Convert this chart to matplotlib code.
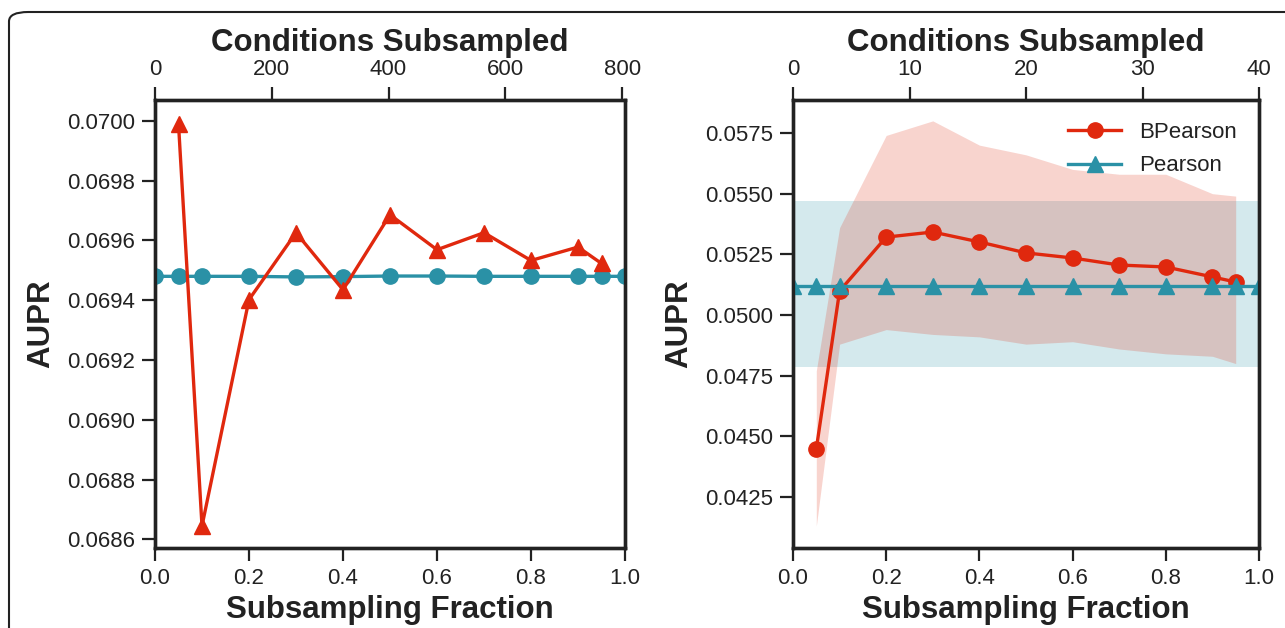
import matplotlib
matplotlib.use("Agg")
import matplotlib.pyplot as plt
from matplotlib.patches import FancyBboxPatch
import numpy as np

plt.rcParams['font.family'] = ['Liberation Sans', 'DejaVu Sans']

# ---------------- data ----------------
# Left panel (large dataset, ~805 conditions)
left_frac_b = [0.05, 0.1, 0.2, 0.3, 0.4, 0.5, 0.6, 0.7, 0.8, 0.9, 0.95]
left_bpearson = [0.06999, 0.068645, 0.069402, 0.069626, 0.069435, 0.069686,
                 0.069569, 0.069626, 0.069533, 0.069578, 0.069523]
left_frac_p = [0.0, 0.05, 0.1, 0.2, 0.3, 0.4, 0.5, 0.6, 0.7, 0.8, 0.9, 0.95, 1.0]
left_pearson = [0.069480, 0.069480, 0.069480, 0.069480, 0.069478, 0.069479, 0.069481,
                0.069481, 0.069480, 0.069480, 0.069480, 0.069480, 0.069480]
left_total_conditions = 805
left_top_ticks = [0, 200, 400, 600, 800]
left_yticks = [0.0686, 0.0688, 0.0690, 0.0692, 0.0694, 0.0696, 0.0698, 0.0700]

# Right panel (small dataset, 40 conditions)
right_frac_b = [0.05, 0.1, 0.2, 0.3, 0.4, 0.5, 0.6, 0.7, 0.8, 0.9, 0.95]
right_bpearson = [0.04448, 0.05099, 0.05321, 0.05342, 0.05301, 0.05256,
                  0.05235, 0.05206, 0.05198, 0.05157, 0.05136]
right_b_upper = [0.0477, 0.0536, 0.0574, 0.0580, 0.0570, 0.0566,
                 0.0560, 0.0558, 0.0558, 0.0550, 0.0549]
right_b_lower = [0.0413, 0.0488, 0.0494, 0.0492, 0.0491, 0.0488,
                 0.0489, 0.0486, 0.0484, 0.0483, 0.0480]
right_frac_p = [0.0, 0.05, 0.1, 0.2, 0.3, 0.4, 0.5, 0.6, 0.7, 0.8, 0.9, 0.95, 1.0]
right_pearson = [0.05120] * 13
right_p_upper = [0.05470] * 13
right_p_lower = [0.04786] * 13
right_total_conditions = 40
right_top_ticks = [0, 10, 20, 30, 40]
right_yticks = [0.0425, 0.0450, 0.0475, 0.0500, 0.0525, 0.0550, 0.0575]

xticks = [0.0, 0.2, 0.4, 0.6, 0.8, 1.0]

RED = '#e0280e'
TEAL = '#2a91a6'
DARK = '#222222'
LABEL_FS = 22.5
TICK_FS = 16

fig = plt.figure(figsize=(12.85, 6.28), dpi=100)

# rounded frame around the figure
frame = FancyBboxPatch((9 / 1285, -0.2), 1.2, 1.2 - 12 / 628,
                       boxstyle="round,pad=0,rounding_size=0.015",
                       transform=fig.transFigure, fill=False,
                       edgecolor=DARK, linewidth=1.5, clip_on=False)
fig.patches.append(frame)

W, H = 1285, 628
bottom = (H - 548) / H
height = (548 - 100) / H
ax1 = fig.add_axes([155 / W, bottom, (625 - 155) / W, height])
ax2 = fig.add_axes([793 / W, bottom, (1259 - 793) / W, height])


def style(ax):
    for s in ax.spines.values():
        s.set_linewidth(2.4)
        s.set_color(DARK)
    ax.tick_params(direction='out', length=9.5, width=1.6, colors=DARK,
                   labelsize=TICK_FS, pad=5)


# ---------- left ----------
ax1.plot(left_frac_p, left_pearson, color=TEAL, lw=2.4, marker='o', ms=11, zorder=3)
ax1.plot(left_frac_b, left_bpearson, color=RED, lw=2.4, marker='^', ms=11, zorder=4)
ax1.set_xlim(0, 1)
ax1.set_ylim(0.068571, 0.07007)
ax1.set_yticks(left_yticks)
ax1.set_yticklabels([f"{v:.4f}" for v in left_yticks])
ax1.set_xticks(xticks)
ax1.set_xticklabels([f"{v:.1f}" for v in xticks])
ax1.set_xlabel('Subsampling Fraction', fontsize=LABEL_FS, fontweight='bold', color=DARK, labelpad=4)
ax1.set_ylabel('AUPR', fontsize=LABEL_FS, fontweight='bold', color=DARK, labelpad=8)
style(ax1)

t1 = ax1.twiny()
t1.set_xlim(0, left_total_conditions)
t1.set_xticks(left_top_ticks)
t1.set_xlabel('Conditions Subsampled', fontsize=LABEL_FS, fontweight='bold', color=DARK, labelpad=6)
style(t1)

# ---------- right ----------
ax2.fill_between(right_frac_p, right_p_lower, right_p_upper, color=TEAL, alpha=0.2, lw=0, zorder=1)
ax2.fill_between(right_frac_b, right_b_lower, right_b_upper, color=RED, alpha=0.2, lw=0, zorder=1)
ax2.plot(right_frac_b, right_bpearson, color=RED, lw=2.4, marker='o', ms=11, zorder=3,
         label='BPearson')
ax2.plot(right_frac_p, right_pearson, color=TEAL, lw=2.4, marker='^', ms=11, zorder=4,
         label='Pearson')
ax2.set_xlim(0, 1)
ax2.set_ylim(0.04040, 0.05886)
ax2.set_yticks(right_yticks)
ax2.set_yticklabels([f"{v:.4f}" for v in right_yticks])
ax2.set_xticks(xticks)
ax2.set_xticklabels([f"{v:.1f}" for v in xticks])
ax2.set_xlabel('Subsampling Fraction', fontsize=LABEL_FS, fontweight='bold', color=DARK, labelpad=4)
ax2.set_ylabel('AUPR', fontsize=LABEL_FS, fontweight='bold', color=DARK, labelpad=8)
style(ax2)
leg = ax2.legend(loc='upper right', frameon=False, fontsize=TICK_FS, handlelength=2.4,
                 borderaxespad=0.6, labelspacing=0.55)
for t in leg.get_texts():
    t.set_color(DARK)

t2 = ax2.twiny()
t2.set_xlim(0, right_total_conditions)
t2.set_xticks(right_top_ticks)
t2.set_xlabel('Conditions Subsampled', fontsize=LABEL_FS, fontweight='bold', color=DARK, labelpad=6)
style(t2)

fig.savefig('out.png', dpi=100)
